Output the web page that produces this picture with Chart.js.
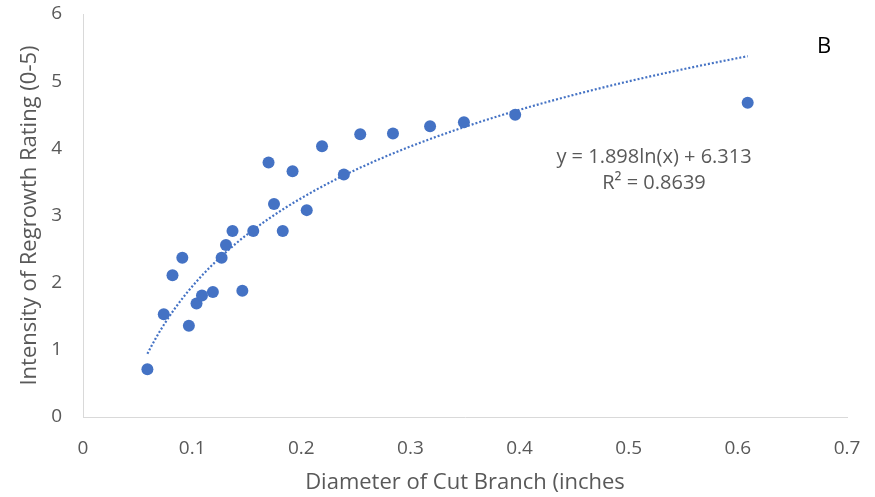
<!DOCTYPE html>
<html>
<head>
<meta charset="utf-8">
<script src="https://cdn.jsdelivr.net/npm/chart.js@4/dist/chart.umd.min.js"></script>
<style>
  html, body { margin: 0; padding: 0; background: #fff; }
  #wrap { width: 875px; height: 497px; }
</style>
</head>
<body>
<div id="wrap"><canvas id="chart"></canvas></div>
<script>
// diameter of cut branch (inches)
const diameters = [0.059, 0.074, 0.082, 0.091, 0.097, 0.104, 0.109, 0.119, 0.127, 0.131,
                   0.137, 0.146, 0.156, 0.170, 0.175, 0.183, 0.192, 0.205, 0.219, 0.239,
                   0.254, 0.284, 0.318, 0.349, 0.396, 0.609]
// regrowth rating
const ratings = [0.71, 1.53, 2.11, 2.37, 1.36, 1.69, 1.81, 1.86, 2.37, 2.56,
                 2.77, 1.88, 2.77, 3.79, 3.17, 2.77, 3.66, 3.08, 4.03, 3.61,
                 4.21, 4.22, 4.33, 4.39, 4.50, 4.68]

// log trendline as printed on the chart
const trendA = 1.898
const trendB = 6.313
const trendLabel = ['y = 1.898ln(x) + 6.313', 'R² = 0.8639']

const xTicks = [0, 0.1, 0.2, 0.3, 0.4, 0.5, 0.6, 0.7]
const yTicks = [0, 1, 2, 3, 4, 5, 6]

const points = diameters.map((d, i) => ({ x: d, y: ratings[i] }))

const xMin = Math.min(...diameters), xMax = Math.max(...diameters)
const trend = []
for (let i = 0; i <= 150; i++) {
    const x = xMin + (xMax - xMin) * i / 150
    trend.push({ x: x, y: trendA * Math.log(x) + trendB })
}

const grey = '#595959'
const font = "'Open Sans', 'Noto Sans', sans-serif"

const textPlugin = {
    id: 'labels',
    afterDraw(chart) {
        const ctx = chart.ctx
        ctx.save()
        ctx.fillStyle = grey
        ctx.font = '20px ' + font
        ctx.textAlign = 'center'
        ctx.textBaseline = 'middle'
        ctx.fillText(trendLabel[0], 654, 157)
        ctx.fillText(trendLabel[1], 654, 183)
        ctx.fillStyle = '#000'
        ctx.font = '22px ' + font
        ctx.fillText('B', 824, 47)
        ctx.restore()
    }
}

// hidden tick marks give the label gap without pushing the plot inwards
const hiddenGrid = len => ({ display: true, drawOnChartArea: false, drawTicks: true,
                             tickLength: len, color: 'rgba(0,0,0,0)' })

new Chart(document.getElementById('chart'), {
    type: 'scatter',
    data: {
        datasets: [
            {
                label: 'Regrowth',
                data: points,
                backgroundColor: '#4472C4',
                borderWidth: 0,
                pointRadius: 6,
                pointHoverRadius: 6
            },
            {
                label: 'Trend',
                type: 'line',
                data: trend,
                borderColor: '#4472C4',
                borderWidth: 2.2,
                borderDash: [2, 2],
                pointRadius: 0,
                fill: false,
                tension: 0
            }
        ]
    },
    options: {
        responsive: true,
        maintainAspectRatio: false,
        animation: false,
        layout: { padding: { top: 14, right: 28, left: 0, bottom: 0 } },
        plugins: { legend: { display: false }, tooltip: { enabled: false } },
        scales: {
            x: {
                type: 'linear',
                min: 0, max: 0.7,
                afterBuildTicks(s) { s.ticks = xTicks.map(v => ({ value: v })) },
                afterFit(s) { s.height = 80 },
                grid: hiddenGrid(20),
                border: { color: '#d9d9d9', width: 1 },
                ticks: { color: grey, font: { family: font, size: 19 }, padding: 0,
                         callback: v => String(v) },
                title: { display: true, text: 'Diameter of Cut Branch (inches', color: grey,
                         font: { family: font, size: 22 }, padding: { top: 4, bottom: 1 } }
            },
            y: {
                min: 0, max: 6,
                afterBuildTicks(s) { s.ticks = yTicks.map(v => ({ value: v })) },
                afterFit(s) { s.width = 83 },
                grid: hiddenGrid(21),
                border: { color: '#d9d9d9', width: 1 },
                ticks: { color: grey, font: { family: font, size: 19 }, padding: 0 },
                title: { display: true, text: 'Intensity of Regrowth Rating (0-5)', color: grey,
                         font: { family: font, size: 22 }, padding: 17 }
            }
        }
    },
    plugins: [textPlugin]
})
</script>
</body>
</html>
